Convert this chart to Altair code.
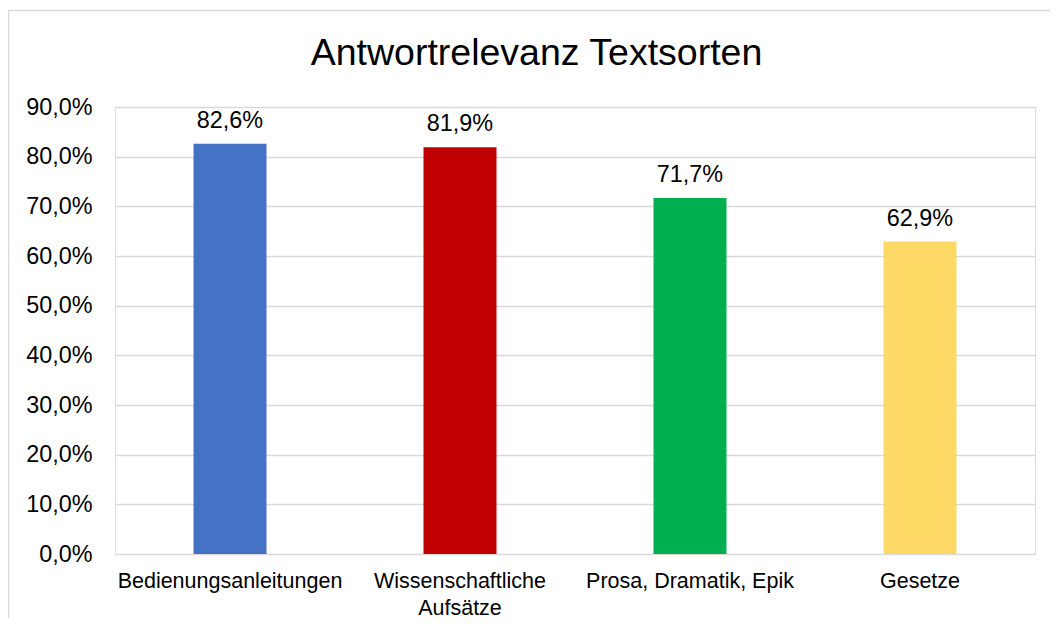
import altair as alt
import pandas as pd

title_text = "Antwortrelevanz Textsorten"
categories = ["Bedienungsanleitungen", "Wissenschaftliche Aufsätze", "Prosa, Dramatik, Epik", "Gesetze"]
values = [82.6, 81.9, 71.7, 62.9]
colors = ["#4472C4", "#C00000", "#00B050", "#FFD966"]
y_ticks = [0, 10, 20, 30, 40, 50, 60, 70, 80, 90]

df = pd.DataFrame({"Kategorie": categories, "Wert": values, "Farbe": colors})

FONT = "Liberation Sans"

base = alt.Chart(df)

x_enc = alt.X(
    "Kategorie:N",
    sort=categories,
    scale=alt.Scale(paddingInner=0, paddingOuter=0),
    axis=alt.Axis(
        title=None,
        labelAngle=0,
        ticks=False,
        domain=False,
        grid=False,
        labelFont=FONT,
        labelFontSize=21.5,
        labelColor="#000000",
        labelPadding=16,
        labelLineHeight=27,
        labelLimit=400,
        labelExpr="datum.value == 'Wissenschaftliche Aufsätze' ? ['Wissenschaftliche', 'Aufsätze'] : datum.value",
    ),
)

y_enc = alt.Y(
    "Wert:Q",
    scale=alt.Scale(domain=[0, 90], nice=False),
    axis=alt.Axis(
        title=None,
        values=y_ticks,
        ticks=False,
        domain=False,
        grid=True,
        gridColor="#D9D9D9",
        gridWidth=1.5,
        labelFont=FONT,
        labelFontSize=23.4,
        labelColor="#000000",
        labelPadding=23,
        labelExpr="replace(format(datum.value, '.1f'), '.', ',') + '%'",
    ),
)

frame = alt.Chart(pd.DataFrame({"a": [0]})).mark_rect(
    fill=None, stroke="#D9D9D9", strokeWidth=1.5, clip=False
).encode(
    x=alt.value(-106.5), x2=alt.value(960), y=alt.value(-96.5), y2=alt.value(560)
)

title = alt.Chart(pd.DataFrame({"t": [title_text]})).mark_text(
    font=FONT, fontSize=37.5, color="#000000", baseline="alphabetic", align="center", clip=False
).encode(
    text="t:N", x=alt.value(421.5), y=alt.value(-42)
)

bars = base.mark_bar(size=73).encode(
    x=x_enc,
    y=y_enc,
    color=alt.Color("Farbe:N", scale=None),
)

labels = base.transform_calculate(
    txt="replace(format(datum.Wert, '.1f'), '.', ',') + '%'"
).mark_text(
    font=FONT, fontSize=23.4, color="#000000", baseline="alphabetic", dy=-16
).encode(
    x=alt.X("Kategorie:N", sort=categories),
    y=alt.Y("Wert:Q"),
    text="txt:N",
)

chart = alt.layer(frame, title, bars, labels).properties(
    width=920,
    height=447,
    autosize=alt.AutoSizeParams(type="none"),
    padding={"left": 107, "top": 99, "right": 15, "bottom": 64},
).configure_view(stroke=None).configure(background="white")

chart.save("out.html", embed_options={"renderer": "svg", "actions": False})
